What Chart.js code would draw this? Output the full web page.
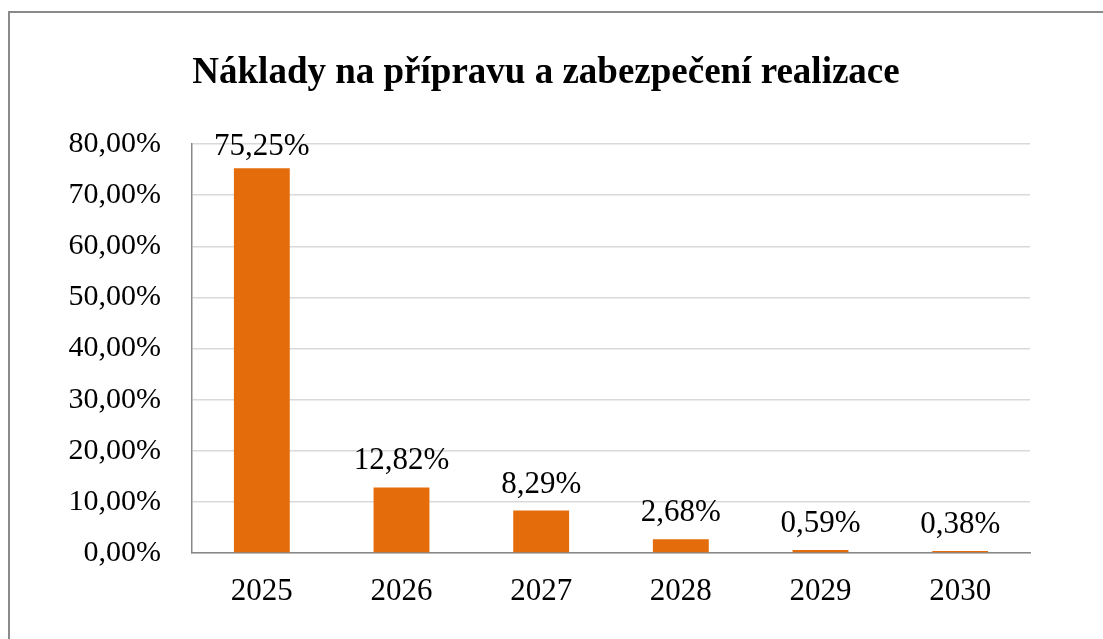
<!DOCTYPE html>
<html>
<head>
<meta charset="utf-8">
<script src="https://cdn.jsdelivr.net/npm/chart.js@4"></script>
<style>
  html, body { margin: 0; padding: 0; background: #fff; }
  #wrap { width: 1103px; height: 639px; position: relative; }
</style>
</head>
<body>
<div id="wrap"><canvas id="c" width="1103" height="639"></canvas></div>
<script>
const titleText = 'Náklady na přípravu a zabezpečení realizace';
const categories = ['2025', '2026', '2027', '2028', '2029', '2030'];
const values = [75.25, 12.82, 8.29, 2.68, 0.59, 0.38];
const yTicks = [0, 10, 20, 30, 40, 50, 60, 70, 80];

const FONT = "'Liberation Serif', 'Times New Roman', serif";
const fmt = v => v.toFixed(2).replace('.', ',') + '%';

const frame = {
  id: 'frame',
  beforeDraw(chart) {
    const ctx = chart.ctx;
    ctx.save();
    ctx.fillStyle = '#ffffff';
    ctx.fillRect(0, 0, chart.width, chart.height);
    ctx.strokeStyle = '#8a8a8a';
    ctx.lineWidth = 2;
    ctx.strokeRect(9, 12, chart.width + 20, chart.height + 20);
    ctx.restore();
  },
  afterDraw(chart) {
    const ctx = chart.ctx;
    ctx.save();
    ctx.fillStyle = '#000';
    ctx.font = 'bold 37px ' + FONT;
    ctx.textAlign = 'center';
    ctx.textBaseline = 'alphabetic';
    ctx.fillText(titleText, 546, 83);
    // data labels
    const meta = chart.getDatasetMeta(0);
    ctx.font = '31px ' + FONT;
    meta.data.forEach((bar, i) => {
      const y = Math.max(bar.y - 18, chart.chartArea.top + 11);
      ctx.fillText(fmt(values[i]), bar.x, y);
    });
    ctx.restore();
  }
};

new Chart(document.getElementById('c'), {
  type: 'bar',
  data: {
    labels: categories,
    datasets: [{
      data: values,
      backgroundColor: '#E46C0A',
      borderWidth: 0,
      barPercentage: 0.4,
      categoryPercentage: 1.0
    }]
  },
  options: {
    responsive: false,
    animation: false,
    devicePixelRatio: 1,
    layout: { padding: { left: 0, right: 73, top: 144, bottom: 0 } },
    plugins: {
      legend: { display: false },
      title: { display: false },
      tooltip: { enabled: false }
    },
    scales: {
      x: {
        grid: { display: false, drawTicks: false },
        border: { display: true, color: '#878787', width: 1.5 },
        ticks: { color: '#000', font: { family: FONT, size: 31 }, padding: 20 },
        afterFit(scale) { scale.height = 639 - 553; }
      },
      y: {
        min: 0,
        max: 80,
        afterBuildTicks(scale) { scale.ticks = yTicks.map(v => ({ value: v })); },
        grid: { color: '#d9d9d9', lineWidth: 1.5, drawTicks: false },
        border: { display: true, color: '#878787', width: 1.5 },
        ticks: {
          color: '#000',
          font: { family: FONT, size: 30 },
          padding: 31,
          callback: v => fmt(v)
        },
        afterFit(scale) { scale.width = 192; }
      }
    }
  },
  plugins: [frame]
});
</script>
</body>
</html>
